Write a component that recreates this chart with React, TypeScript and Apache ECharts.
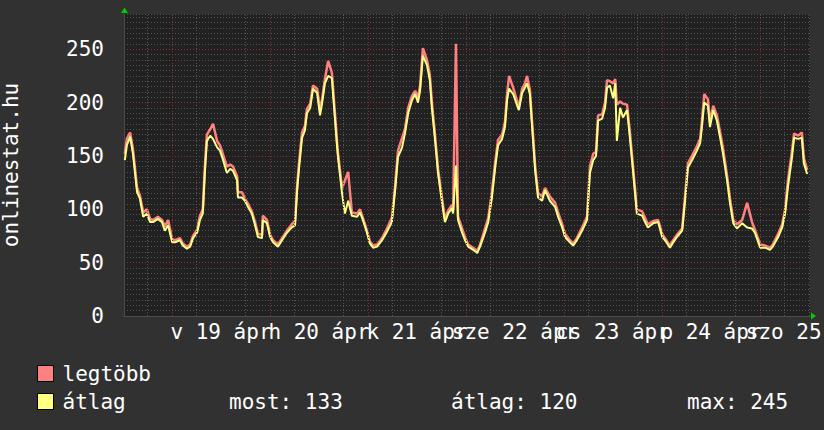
import React, { useEffect, useRef } from 'react';
import * as echarts from 'echarts';

const FONT = '"DejaVu Sans Mono", monospace';

// hours from the start of the graph (Sat 18 Apr ~12:15)
const hours = [
  0.2, 0.7, 1.5, 2.2, 2.7, 3.2, 3.9, 4.7, 5.6, 6.4, 7.1, 8.3, 9.3, 10.0, 10.8,
  11.8, 12.5, 13.7, 14.4, 15.4, 16.2, 16.9, 17.9, 18.6, 19.3, 19.8, 20.3, 21.1, 21.8, 22.8,
  23.5, 24.2, 25.2, 26.0, 26.7, 27.7, 27.9, 28.9, 29.6, 30.4, 31.3, 32.1, 32.8, 33.8, 34.0,
  35.0, 35.8, 36.5, 37.7, 38.7, 39.9, 41.1, 41.9, 42.4, 42.9, 43.6, 44.3, 44.8, 45.6, 46.3,
  47.3, 48.0, 48.5, 49.2, 50.0, 50.9, 51.2, 51.7, 52.2, 52.4, 53.4, 54.1, 54.9, 55.8, 57.1,
  57.8, 58.5, 59.5, 60.2, 61.0, 62.0, 63.2, 64.4, 65.6, 66.4, 67.1, 68.1, 68.8, 69.6, 70.5,
  71.3, 72.0, 72.5, 73.2, 74.2, 74.9, 75.4, 76.2, 76.9, 77.9, 78.6, 79.4, 80.3, 80.6, 81.3,
  81.8, 82.8, 83.5, 84.3, 85.5, 86.5, 87.2, 88.4, 89.2, 90.1, 90.9, 91.6, 92.6, 93.3, 93.8,
  94.3, 95.3, 96.3, 96.7, 97.5, 98.2, 98.7, 99.4, 99.9, 100.7, 101.4, 102.4, 103.1, 104.3, 105.6,
  106.3, 107.3, 108.0, 109.2, 110.0, 110.9, 112.2, 113.4, 114.1, 114.9, 115.6, 116.1, 117.1, 117.8, 118.3,
  119.0, 119.8, 120.3, 120.7, 121.5, 122.2, 123.2, 123.9, 124.7, 125.6, 126.9, 127.6, 128.3, 129.6, 130.8,
  131.8, 132.5, 133.7, 134.5, 135.4, 136.7, 137.4, 138.1, 139.1, 140.3, 141.1, 141.6, 142.1, 143.0, 143.5,
  144.3, 145.2, 146.0, 146.7, 147.7, 148.4, 149.2, 150.1, 151.4, 152.6, 153.8, 154.5, 155.8, 157.0, 158.2,
  158.9, 160.2, 161.2, 161.9, 162.6, 163.6, 164.1, 165.1, 166.0, 166.5, 167.3,
];

const atlag = [
  146, 160, 168, 152, 134, 116, 110, 93, 96, 88, 88, 91, 88, 80, 85,
  69, 69, 71, 66, 63, 65, 73, 78, 90, 96, 134, 164, 169, 166, 158,
  155, 147, 134, 138, 136, 127, 111, 111, 108, 102, 96, 85, 74, 73, 90,
  87, 74, 69, 65, 71, 78, 83, 85, 118, 140, 167, 174, 190, 195, 213,
  209, 188, 199, 218, 225, 223, 208, 183, 158, 149, 115, 96, 108, 94, 93,
  97, 90, 78, 68, 64, 65, 71, 79, 88, 118, 149, 158, 171, 190, 202,
  208, 200, 211, 244, 235, 221, 195, 164, 134, 106, 88, 96, 101, 96, 141,
  90, 78, 71, 65, 62, 59, 65, 78, 88, 111, 139, 160, 166, 177, 202,
  213, 208, 197, 193, 209, 214, 218, 208, 180, 136, 111, 108, 118, 108, 102,
  93, 83, 74, 69, 66, 71, 80, 90, 134, 146, 150, 183, 185, 195, 214,
  216, 204, 218, 164, 195, 186, 193, 167, 134, 96, 94, 88, 83, 87, 88,
  74, 71, 64, 69, 74, 80, 108, 139, 146, 155, 162, 180, 200, 197, 177,
  193, 183, 167, 152, 127, 106, 87, 82, 87, 83, 82, 78, 64, 64, 62,
  65, 74, 83, 96, 121, 149, 167, 166, 167, 143, 133,
];

const legtobb = [
  152, 166, 172, 156, 138, 120, 113, 97, 100, 91, 90, 93, 90, 84, 90,
  72, 71, 73, 68, 65, 67, 75, 81, 94, 100, 140, 170, 175, 180, 164,
  160, 152, 140, 142, 140, 131, 116, 116, 110, 105, 98, 88, 77, 76, 94,
  90, 76, 71, 67, 73, 80, 86, 89, 122, 145, 172, 178, 194, 199, 216,
  213, 193, 203, 222, 239, 228, 213, 188, 162, 153, 120, 127, 135, 97, 96,
  100, 92, 80, 70, 66, 67, 73, 82, 92, 122, 155, 167, 175, 195, 206,
  211, 205, 215, 251, 240, 226, 200, 168, 138, 110, 91, 99, 104, 99, 255,
  93, 82, 74, 67, 64, 61, 67, 82, 92, 116, 144, 165, 170, 182, 207,
  225, 214, 201, 196, 213, 218, 225, 212, 184, 140, 115, 112, 120, 112, 106,
  97, 86, 77, 71, 68, 73, 83, 93, 140, 152, 154, 188, 189, 200, 221,
  220, 218, 222, 198, 201, 199, 198, 172, 138, 100, 98, 92, 86, 89, 90,
  77, 73, 66, 71, 76, 82, 112, 143, 150, 159, 166, 185, 208, 203, 182,
  197, 188, 172, 157, 131, 110, 90, 86, 90, 106, 88, 81, 67, 66, 64,
  67, 77, 86, 100, 127, 155, 171, 169, 172, 148, 137,
];

// x-axis day labels (centred at noon) and grid positions (hours from start)
const dayLabels = ['v 19 ápr', 'h 20 ápr', 'k 21 ápr', 'sze 22 ápr', 'cs 23 ápr', 'p 24 ápr', 'szo 25 ápr'];
const labelHours = [23.75, 47.75, 71.75, 95.75, 119.75, 143.75, 167.75];
const majorGridHours = [11.75, 35.75, 59.75, 83.75, 107.75, 131.75, 155.75];
const minorGridHours = [5.75, 17.75, 29.75, 41.75, 53.75, 65.75, 77.75, 89.75, 101.75, 113.75, 125.75, 137.75, 149.75, 161.75, 167.75];

const statLabels = ['most: 133', 'átlag: 120', 'max: 245'];
const statX = [229, 451, 687];

const MINOR = '#555555';
const MAJOR = '#843030';

export default function App() {
  const ref = useRef<HTMLDivElement>(null);
  useEffect(() => {
    const chart = echarts.init(ref.current!, null, { renderer: 'svg' });
    const gridLine = (x: number, color: string) => ({
      xAxis: x,
      lineStyle: { color, type: [1, 2], width: 1 },
    });
    const option: any = {
      animation: false,
      backgroundColor: '#313131',
      grid: {
        left: 124, right: 14, top: 14, bottom: 114,
        show: true, backgroundColor: '#212121', borderWidth: 0,
        containLabel: false, outerBoundsMode: 'none',
      },
      legend: {
        data: ['legtöbb', 'átlag'],
        orient: 'vertical',
        left: 32,
        top: 358,
        itemWidth: 16,
        itemHeight: 16,
        itemGap: 7,
        icon: 'rect',
        selectedMode: false,
        itemStyle: { borderColor: '#000', borderWidth: 1 },
        textStyle: { color: '#ffffff', fontFamily: FONT, fontSize: 21, padding: [0, 0, 0, 4] },
      },
      xAxis: {
        type: 'value',
        min: 0,
        max: 168,
        axisLine: { show: true, lineStyle: { color: '#4a4a4a' } },
        axisTick: { show: false },
        splitLine: { show: false },
        axisLabel: { show: false },
      },
      yAxis: {
        type: 'value',
        min: 0,
        max: 283,
        interval: 5,
        name: 'onlinestat.hu',
        nameLocation: 'middle',
        nameGap: 103,
        nameTextStyle: { color: '#ffffff', fontFamily: FONT, fontSize: 21 },
        axisLine: { show: true, lineStyle: { color: '#4a4a4a' } },
        axisTick: { show: false },
        axisLabel: {
          formatter: (v: number) => (v % 50 === 0 ? String(v) : ''),
          color: '#ffffff',
          fontFamily: FONT,
          fontSize: 21,
          margin: 20,
        },
        splitLine: {
          show: true,
          lineStyle: {
            color: [MAJOR, MINOR, MINOR, MINOR, MINOR, MINOR, MINOR, MINOR, MINOR, MINOR],
            type: [1, 2],
            width: 1,
          },
        },
      },
      series: [
        {
          name: 'gridlines',
          type: 'line',
          data: [],
          z: 1,
          silent: true,
          markLine: {
            silent: true,
            symbol: ['none', 'none'],
            label: { show: false },
            emphasis: { disabled: true },
            data: [
              ...minorGridHours.map((h) => gridLine(h, MINOR)),
              ...majorGridHours.map((h) => gridLine(h, MAJOR)),
            ],
          },
        },
        {
          name: 'daylabels',
          type: 'line',
          data: [],
          z: 5,
          silent: true,
          markLine: {
            silent: true,
            symbol: ['none', 'none'],
            emphasis: { disabled: true },
            lineStyle: { color: 'rgba(0,0,0,0)', width: 1, type: 'solid' },
            label: {
              show: true,
              position: 'start',
              color: '#ffffff',
              fontFamily: FONT,
              fontSize: 21,
              distance: 5,
            },
            data: labelHours.map((h, i) => ({
              xAxis: h,
              label: { formatter: dayLabels[i] },
            })),
          },
        },
        {
          name: 'legtöbb',
          type: 'line',
          z: 2,
          showSymbol: false,
          color: '#ff8080',
          lineStyle: { color: '#ff8080', width: 2.5 },
          data: hours.map((h, i) => [h, legtobb[i]]),
        },
        {
          name: 'átlag',
          type: 'line',
          z: 3,
          showSymbol: false,
          color: '#ffff80',
          lineStyle: { color: '#ffff80', width: 2 },
          data: hours.map((h, i) => [h, atlag[i]]),
        },
      ],
      graphic: [
        { type: 'polygon', shape: { points: [[121, 13], [128, 13], [124.5, 7.5]] }, style: { fill: '#00cc00' } },
        { type: 'polygon', shape: { points: [[811, 312.5], [811, 319.5], [816, 316]] }, style: { fill: '#00cc00' } },
        ...statLabels.map((t, i) => ({
          type: 'text',
          x: statX[i],
          y: 402,
          style: { text: t, fill: '#ffffff', font: `21px ${FONT}`, verticalAlign: 'middle' },
        })),
      ],
    };
    chart.setOption(option);
    return () => chart.dispose();
  }, []);
  return <div ref={ref} style={{ position: 'fixed', left: 0, top: 0, width: 824, height: 430 }} />;
}
